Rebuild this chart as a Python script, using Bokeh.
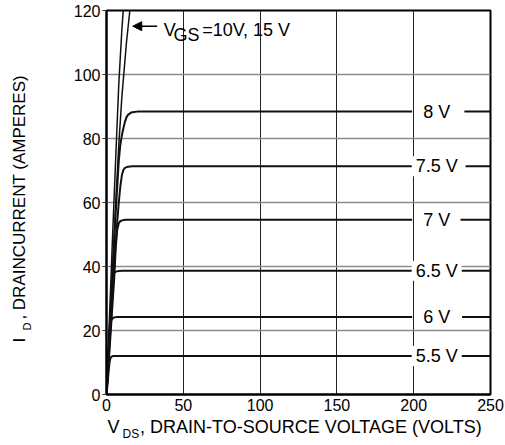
from math import pi
from bokeh.plotting import figure
from bokeh.models import ColumnDataSource, Label, Arrow, NormalHead, FixedTicker
from bokeh.core.properties import value
from bokeh.embed import file_html
from bokeh.resources import INLINE

FONT = "Liberation Sans"

# ---- data ----
X_TICKS = [0, 50, 100, 150, 200, 250]
Y_TICKS = [0, 20, 40, 60, 80, 100, 120]

VDS_55 = [0, 1, 1.6, 2.1, 2.7, 3.5, 4.5, 199]
ID_55 = [0, 5, 8.5, 10.5, 11.5, 11.9, 12.0, 12.0]

VDS_60 = [0, 1, 2, 2.6, 3.2, 4, 5, 7, 199]
ID_60 = [0, 9, 18, 22, 23.3, 23.8, 24.1, 24.2, 24.2]

VDS_65 = [0, 1, 2, 3, 3.7, 4.3, 5, 6, 8, 10, 199]
ID_65 = [0, 10, 20, 29, 35, 37, 38, 38.4, 38.6, 38.7, 38.7]

VDS_70 = [0, 2, 4, 5, 6, 7, 8, 9, 11, 13, 199]
ID_70 = [0, 14, 29, 36, 46, 51.5, 53.5, 54.2, 54.5, 54.6, 54.6]

VDS_75 = [0, 2, 4, 6, 7, 8, 9, 10, 11, 12, 14, 17, 199]
ID_75 = [0, 16, 32, 47, 54, 60, 65, 68.5, 70.2, 70.8, 71.2, 71.3, 71.3]

VDS_80 = [0, 2, 4, 6, 8, 9, 10, 11, 12, 13, 14, 16, 18, 20, 199]
ID_80 = [0, 19, 38, 57, 73, 78, 81, 83.2, 85.2, 86.6, 87.4, 88.1, 88.3, 88.4, 88.4]

VDS_10 = [0, 2, 4, 6, 8, 10, 13, 15.2, 16.5]
ID_10 = [0, 20, 40, 60, 78, 93, 110, 120, 126]

VDS_15 = [0, 2, 4, 6, 8, 10, 11.5]
ID_15 = [0, 25, 50, 74, 97, 114, 124]

CURVE_LABELS = ["5.5 V", "6 V", "6.5 V", "7 V", "7.5 V", "8 V"]
CURVE_LEVELS = [12.0, 24.2, 38.7, 54.6, 71.3, 88.4]
LEADER_START = [230.5, 231.5, 230.5, 230.5, 233.7, 233.0]
LEADER_END = 250
LABEL_X = 215

# ---- figure ----
p = figure(frame_width=384, frame_height=384, x_range=(0, 250), y_range=(0, 120),
           output_backend="svg", toolbar_location=None,
           min_border_left=106, min_border_right=14, min_border_top=10, min_border_bottom=48,
           background_fill_color="white", border_fill_color="white")
p.outline_line_color = "black"
p.outline_line_width = 2
p.outline_line_alpha = 1.0

p.xaxis.ticker = FixedTicker(ticks=X_TICKS)
p.yaxis.ticker = FixedTicker(ticks=Y_TICKS)
p.xgrid.ticker = FixedTicker(ticks=X_TICKS)
p.ygrid.ticker = FixedTicker(ticks=Y_TICKS)

for ax in (p.xaxis, p.yaxis):
    ax.axis_line_color = "black"
    ax.axis_line_width = 2
    ax.minor_tick_line_color = None
    ax.major_tick_in = 0
    ax.major_label_text_font = FONT
    ax.major_label_text_font_size = "16px"
    ax.major_label_text_color = "black"
    ax.axis_label = None

p.xaxis.major_tick_out = 0
p.xaxis.major_label_standoff = 4
p.yaxis.major_tick_out = 4
p.yaxis.major_tick_line_color = "#333333"
p.yaxis.major_label_standoff = 2

p.xgrid.grid_line_color = "#222222"
p.xgrid.grid_line_width = 1
p.ygrid.grid_line_color = "#8c8c8c"
p.ygrid.grid_line_width = 1.5

for xs, ys in [(VDS_55, ID_55), (VDS_60, ID_60), (VDS_65, ID_65),
               (VDS_70, ID_70), (VDS_75, ID_75), (VDS_80, ID_80)]:
    p.line(xs, ys, line_color="#111111", line_width=2)

for xs, ys in [(VDS_10, ID_10), (VDS_15, ID_15)]:
    p.line(xs, ys, line_color="#111111", line_width=1.5)

# leaders right of the labels
p.segment(x0=LEADER_START, y0=CURVE_LEVELS, x1=[LEADER_END] * len(CURVE_LEVELS),
          y1=CURVE_LEVELS, line_color="#111111", line_width=2)

lab_src = ColumnDataSource(dict(x=[LABEL_X] * len(CURVE_LABELS), y=CURVE_LEVELS,
                                text=CURVE_LABELS))
p.text(x="x", y="y", text="text", source=lab_src, text_font=value(FONT),
       text_font_size="18px", text_color="black", text_align="center",
       text_baseline="middle", background_fill_color="white", padding=(4, 0))

# arrow annotation
p.add_layout(Arrow(end=NormalHead(size=9, fill_color="black", line_color="black", line_width=1),
                   x_start=33, y_start=115.1, x_end=17.1, y_end=115.1,
                   line_color="black", line_width=1.5))

def lab(x, y, t, size, angle=0, place="center"):
    L = Label(x=x, y=y, text=t, text_font=FONT, text_font_size=size,
              text_color="black", text_align="left",
              text_baseline="alphabetic", angle=angle)
    if place == "center":
        p.add_layout(L)
    else:
        p.add_layout(L, place)

lab(37.3, 114.0, "V", "18px")
lab(43.6, 112.2, "GS", "18px")
lab(62.3, 114.0, "=10V, 15 V", "18px")

# x axis title
lab(0.6, -10.0, "V", "18px", 0, "below")
lab(10.4, -12.2, "DS", "12px", 0, "below")
lab(21.8, -10.3, ", DRAIN-TO-SOURCE VOLTAGE (VOLTS)", "18px", 0, "below")

# y axis title
lab(-56.8, 16.25, "I", "17px", pi / 2, "left")
lab(-52.0, 20.0, "D", "11px", pi / 2, "left")
lab(-56.8, 23.4, ", DRAINCURRENT (AMPERES)", "17px", pi / 2, "left")

open("out.html", "w").write(file_html(p, INLINE))
